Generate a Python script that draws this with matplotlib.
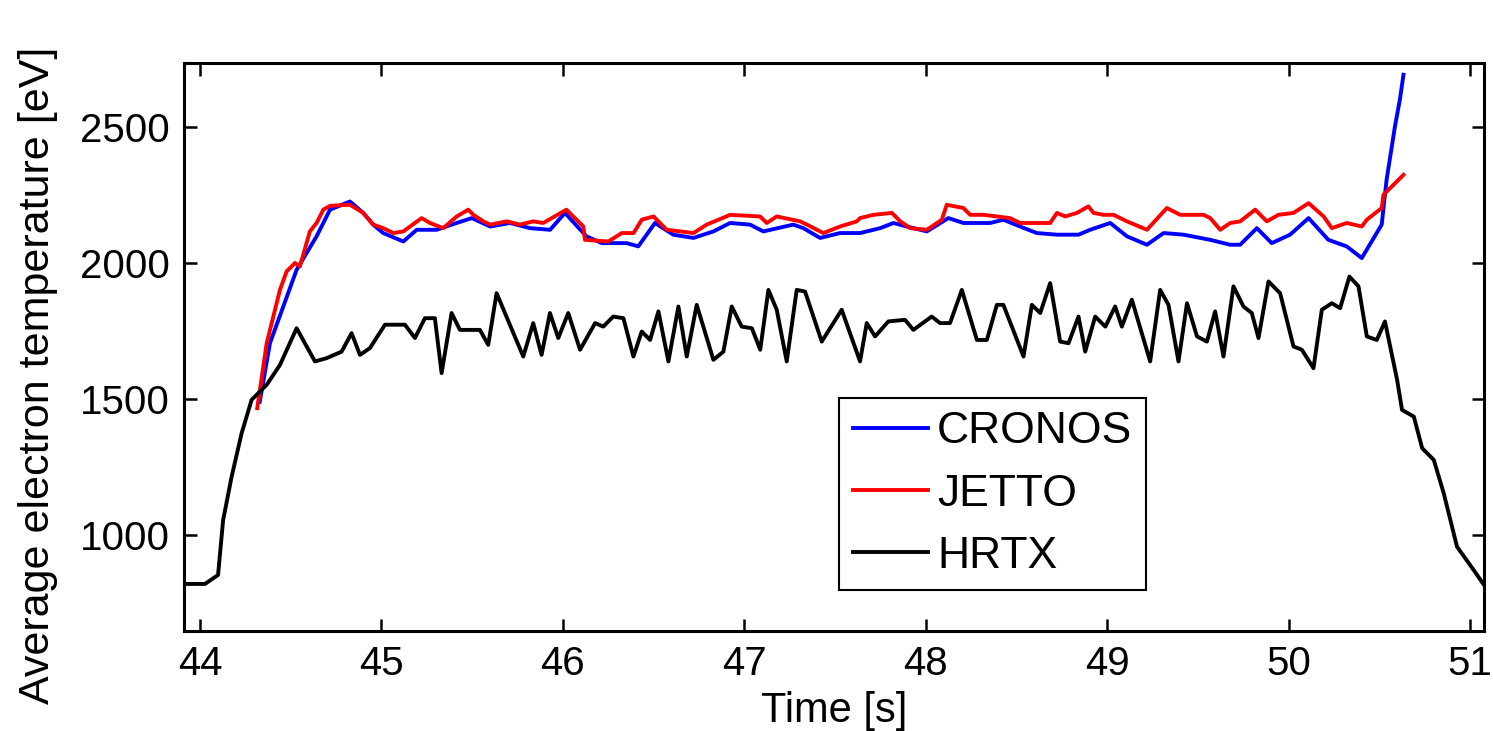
import matplotlib
matplotlib.use("Agg")
import matplotlib.pyplot as plt

plt.rcParams['font.family'] = ['Liberation Sans', 'DejaVu Sans']

# HRTX measurement
hrtx_t = [43.912, 44.028, 44.10, 44.128, 44.175, 44.23, 44.285, 44.368, 44.441, 44.533,
          44.634, 44.698, 44.781, 44.836, 44.882, 44.937, 45.02, 45.13, 45.185, 45.24,
          45.295, 45.332, 45.387, 45.433, 45.543, 45.589, 45.635, 45.782, 45.837, 45.883,
          45.929, 45.975, 46.03, 46.095, 46.178, 46.223, 46.278, 46.334, 46.389, 46.435,
          46.481, 46.527, 46.582, 46.637, 46.683, 46.738, 46.83, 46.885, 46.931, 46.986,
          47.042, 47.088, 47.133, 47.179, 47.234, 47.289, 47.335, 47.427, 47.537, 47.638,
          47.675, 47.721, 47.794, 47.886, 47.932, 48.033, 48.079, 48.134, 48.199, 48.282,
          48.337, 48.392, 48.428, 48.539, 48.585, 48.631, 48.686, 48.741, 48.787, 48.842,
          48.879, 48.934, 48.99, 49.044, 49.081, 49.136, 49.237, 49.292, 49.338, 49.393,
          49.44, 49.495, 49.55, 49.595, 49.641, 49.696, 49.751, 49.797, 49.834, 49.889,
          49.953, 50.027, 50.073, 50.137, 50.183, 50.238, 50.284, 50.335, 50.385, 50.431,
          50.486, 50.531, 50.598, 50.625, 50.69, 50.736, 50.8, 50.855, 50.928, 51.02, 51.077]
hrtx_te = [820, 820, 853, 1055, 1215, 1374, 1497, 1552, 1625, 1760,
           1638, 1650, 1674, 1742, 1662, 1687, 1773, 1773, 1724, 1797,
           1797, 1595, 1816, 1754, 1754, 1699, 1889, 1656, 1779, 1662,
           1816, 1724, 1816, 1681, 1779, 1766, 1803, 1797, 1656, 1748,
           1717, 1822, 1638, 1840, 1656, 1846, 1644, 1674, 1840, 1766,
           1760, 1681, 1901, 1828, 1638, 1901, 1895, 1711, 1828, 1638,
           1779, 1730, 1785, 1791, 1754, 1803, 1779, 1779, 1901, 1717,
           1717, 1846, 1846, 1656, 1846, 1816, 1926, 1711, 1705, 1803,
           1674, 1803, 1766, 1840, 1766, 1865, 1638, 1901, 1846, 1638,
           1852, 1730, 1711, 1822, 1656, 1914, 1840, 1816, 1724, 1932,
           1889, 1693, 1681, 1613, 1828, 1852, 1834, 1950, 1914, 1730,
           1717, 1785, 1570, 1460, 1435, 1319, 1276, 1153, 957, 871, 816]

# CRONOS simulation
cronos_t = [44.33, 44.386, 44.533, 44.643, 44.717, 44.827, 44.9, 44.955, 45.01, 45.121,
            45.195, 45.305, 45.415, 45.498, 45.6, 45.709, 45.819, 45.93, 46.012, 46.13,
            46.215, 46.352, 46.416, 46.508, 46.609, 46.72, 46.83, 46.922, 47.032, 47.105,
            47.27, 47.326, 47.418, 47.528, 47.638, 47.749, 47.822, 47.896, 48.006, 48.125,
            48.208, 48.355, 48.428, 48.52, 48.612, 48.723, 48.842, 48.906, 49.017, 49.109,
            49.219, 49.311, 49.421, 49.568, 49.678, 49.733, 49.825, 49.907, 50.008, 50.11,
            50.219, 50.32, 50.403, 50.513, 50.54, 50.586, 50.613, 50.633]
cronos_te = [1490, 1705, 1975, 2098, 2196, 2226, 2184, 2141, 2110, 2079,
             2122, 2122, 2147, 2165, 2134, 2147, 2128, 2122, 2184, 2098,
             2073, 2073, 2061, 2147, 2104, 2092, 2116, 2147, 2141, 2116,
             2141, 2128, 2092, 2110, 2110, 2128, 2147, 2134, 2116, 2165,
             2147, 2147, 2159, 2134, 2110, 2104, 2104, 2122, 2147, 2098,
             2067, 2110, 2104, 2085, 2067, 2067, 2128, 2073, 2104, 2165,
             2085, 2061, 2018, 2141, 2306, 2502, 2600, 2692]

# JETTO simulation
jetto_t = [44.316, 44.368, 44.441, 44.478, 44.524, 44.551, 44.606, 44.643, 44.68, 44.717,
           44.827, 44.9, 44.955, 45.01, 45.066, 45.121, 45.158, 45.222, 45.268, 45.341,
           45.415, 45.479, 45.507, 45.562, 45.6, 45.691, 45.764, 45.837, 45.892, 46.02,
           46.113, 46.122, 46.251, 46.325, 46.39, 46.435, 46.5, 46.573, 46.72, 46.793,
           46.922, 47.087, 47.124, 47.179, 47.308, 47.345, 47.436, 47.528, 47.62, 47.638,
           47.712, 47.813, 47.86, 47.915, 48.006, 48.089, 48.116, 48.208, 48.245, 48.318,
           48.392, 48.465, 48.52, 48.686, 48.723, 48.769, 48.833, 48.897, 48.925, 48.98,
           49.035, 49.109, 49.219, 49.329, 49.403, 49.531, 49.568, 49.623, 49.678, 49.733,
           49.816, 49.88, 49.944, 50.027, 50.11, 50.193, 50.238, 50.32, 50.403, 50.431,
           50.513, 50.523, 50.597, 50.633]
jetto_te = [1466, 1705, 1901, 1969, 2000, 1987, 2116, 2147, 2196, 2210,
            2214, 2184, 2141, 2128, 2110, 2116, 2134, 2165, 2147, 2128,
            2171, 2196, 2177, 2153, 2141, 2153, 2141, 2153, 2147, 2196,
            2134, 2085, 2079, 2110, 2110, 2159, 2171, 2122, 2110, 2141,
            2177, 2171, 2147, 2171, 2153, 2141, 2110, 2134, 2153, 2165,
            2177, 2184, 2153, 2128, 2122, 2159, 2214, 2202, 2177, 2177,
            2171, 2165, 2147, 2147, 2184, 2171, 2184, 2208, 2184, 2177,
            2177, 2153, 2122, 2202, 2177, 2177, 2165, 2122, 2147, 2153,
            2196, 2153, 2177, 2184, 2220, 2171, 2128, 2147, 2134, 2159,
            2202, 2251, 2300, 2324]

xticks = [44, 45, 46, 47, 48, 49, 50, 51]
yticks = [1000, 1500, 2000, 2500]

fig = plt.figure(figsize=(14.93, 7.31), dpi=100)
ax = fig.add_axes([0.1232, 0.1368, 0.8708, 0.7777])

ax.plot(cronos_t, cronos_te, color='#0000ff', linewidth=2.8, label='CRONOS', zorder=2)
ax.plot(jetto_t, jetto_te, color='#ff0000', linewidth=2.8, label='JETTO', zorder=3)
ax.plot(hrtx_t, hrtx_te, color='black', linewidth=2.8, label='HRTX', zorder=4)

ax.set_xlim(43.912, 51.077)
ax.set_ylim(647, 2737)
ax.set_xticks(xticks)
ax.set_yticks(yticks)
ax.tick_params(direction='in', length=9, width=1.8, top=True, right=True,
               labelsize=29, pad=10)
for s in ax.spines.values():
    s.set_linewidth(2.2)

ax.set_xlabel('Time [s]', fontsize=30)
ax.set_ylabel('Average electron temperature [eV]', fontsize=31)
ax.xaxis.set_label_coords(0.5, -0.105)
ax.yaxis.set_label_coords(-0.097, 0.449)

leg = ax.legend(loc='upper left', bbox_to_anchor=(0.504, 0.41), borderaxespad=0,
                fontsize=32, handlelength=1.7, handletextpad=0.2, borderpad=0.3,
                labelspacing=0.48, fancybox=False, framealpha=1, edgecolor='black')
leg.get_frame().set_linewidth(1.5)

fig.savefig('out.png', dpi=100)
